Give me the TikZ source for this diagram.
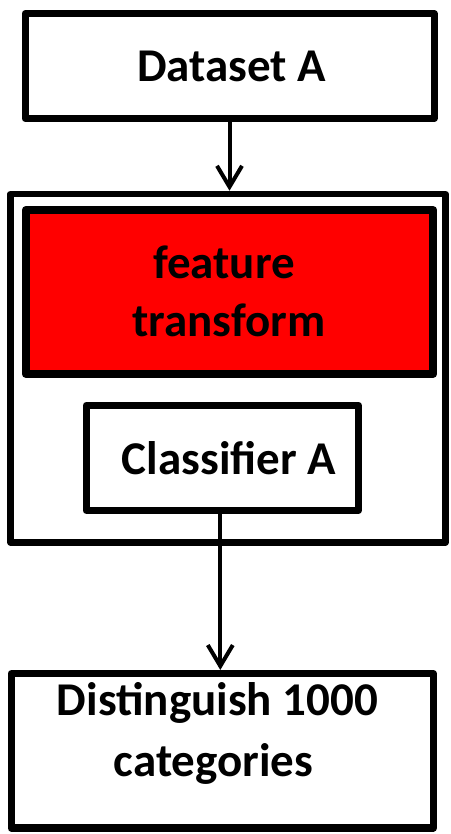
\documentclass[tikz,border=0pt]{standalone}
\usepackage{fontspec}
\setmainfont{Carlito}
\usetikzlibrary{arrows.meta}
\definecolor{boxred}{RGB}{255,0,0}
\tikzset{
  box/.style={draw=black, rectangle, line join=round, inner sep=0pt, fill=white},
  lbl/.style={anchor=base, inner sep=0pt, font=\bfseries\fontsize{47}{56}\selectfont},
  conn/.style={line width=4pt, -{Straight Barb[length=21pt,width=25pt]}}
}
\begin{document}
\begin{tikzpicture}[x=1pt,y=-1pt]
\useasboundingbox (0,0) rectangle (450,834);
% boxes
\node[box, line width=7pt, minimum width=409pt, minimum height=105pt] (ds) at (229.5,66) {};
\node[box, line width=6.5pt, minimum width=435pt, minimum height=348.5pt] (outer) at (228,368.25) {};
\node[box, line width=8pt, fill=boxred, minimum width=407.5pt, minimum height=164pt] (ft) at (229.5,292) {};
\node[box, line width=7.5pt, minimum width=272pt, minimum height=104.8pt] (cls) at (222.3,457.9) {};
\node[box, line width=7.5pt, minimum width=422pt, minimum height=154.3pt] (dist) at (222.25,750.85) {};
% texts
\node[lbl] (tds) at (231.7,81.7) {Dataset A};
\node[lbl] (tft1) at (224,278) {feature};
\node[lbl] (tft2) at (229,336) {transform};
\node[lbl] (tcls) at (229,474.3) {Classifier A};
\node[lbl] (tdist1) at (217.5,715) {Distinguish 1000};
\node[lbl] (tdist2) at (213.5,776.7) {categories};
% connectors
\draw[conn] (ds.south) -- (ds.south |- outer.north);
\draw[conn] ([xshift=-2pt]cls.south) -- ([xshift=-2pt]cls.south |- dist.north);
\end{tikzpicture}
\end{document}
